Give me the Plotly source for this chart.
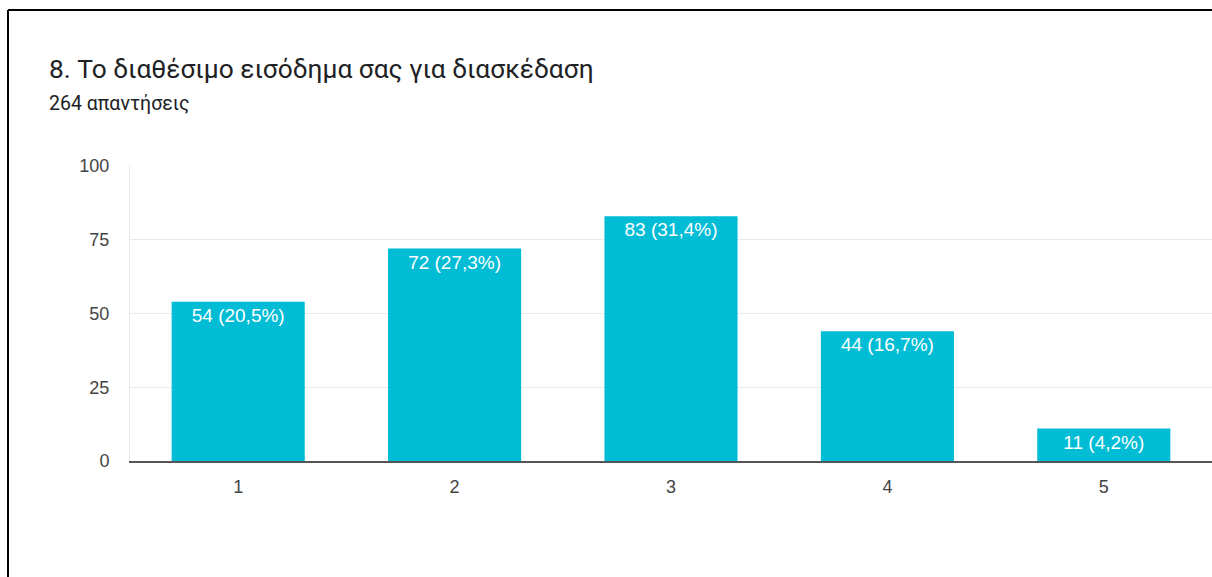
import plotly.graph_objects as go

categories = ["1", "2", "3", "4", "5"]
counts = [54, 72, 83, 44, 11]
total_responses = 264
y_ticks = [0, 25, 50, 75, 100]
title_text = "8. Το διαθέσιμο εισόδημα σας για διασκέδαση"
subtitle_text = "264 απαντήσεις"

labels = [f"{c} ({c / total_responses * 100:.1f}%)".replace(".", ",") for c in counts]

W, H = 1212, 577
L, R, T, B = 130, 0, 166, 116
pw, ph = W - L - R, H - T - B

def px(x):
    return (x - L) / pw

def py(y):
    return (H - B - y) / ph

fig = go.Figure(go.Bar(
    x=categories, y=counts, text=labels,
    textposition="inside", insidetextanchor="end",
    textfont=dict(family="Liberation Sans, Arial", size=19, color="white"),
    marker=dict(color="#00BCD4", line=dict(width=0)),
    cliponaxis=False,
))

fig.update_layout(
    width=W, height=H,
    margin=dict(l=L, r=R, t=T, b=B),
    plot_bgcolor="white", paper_bgcolor="white",
    bargap=0.385,
    showlegend=False,
    xaxis=dict(
        type="category", showgrid=False, showline=True, linecolor="#555", linewidth=1.5,
        ticks="outside", ticklen=9, tickcolor="rgba(0,0,0,0)",
        tickfont=dict(family="Liberation Sans, Arial", size=18, color="#444"),
    ),
    yaxis=dict(
        range=[0, 100], tickvals=y_ticks, showgrid=True, gridcolor="#ebebeb",
        showline=True, linecolor="#ebebeb", zeroline=False,
        ticks="outside", ticklen=16, tickcolor="rgba(0,0,0,0)",
        tickfont=dict(family="Liberation Sans, Arial", size=18, color="#444"),
    ),
)

fig.add_annotation(
    text=title_text, xref="paper", yref="paper",
    x=px(47), y=py(69), xanchor="left", yanchor="middle", showarrow=False,
    font=dict(family="Roboto", size=26.3, color="#202124"),
)
fig.add_annotation(
    text=subtitle_text, xref="paper", yref="paper",
    x=px(47), y=py(103), xanchor="left", yanchor="middle", showarrow=False,
    font=dict(family="Roboto", size=19.5, color="#202124"),
)

# frame lines (left and top)
fig.add_shape(type="line", xref="paper", yref="paper",
              x0=px(8), x1=px(8), y0=py(10), y1=py(H + 20),
              line=dict(color="black", width=2))
fig.add_shape(type="line", xref="paper", yref="paper",
              x0=px(8), x1=px(W + 30), y0=py(10), y1=py(10),
              line=dict(color="black", width=2))

fig.write_html(
    "out.html",
    config={"displayModeBar": False},
    post_script="document.body.style.margin='0';document.body.style.overflow='hidden';",
)
